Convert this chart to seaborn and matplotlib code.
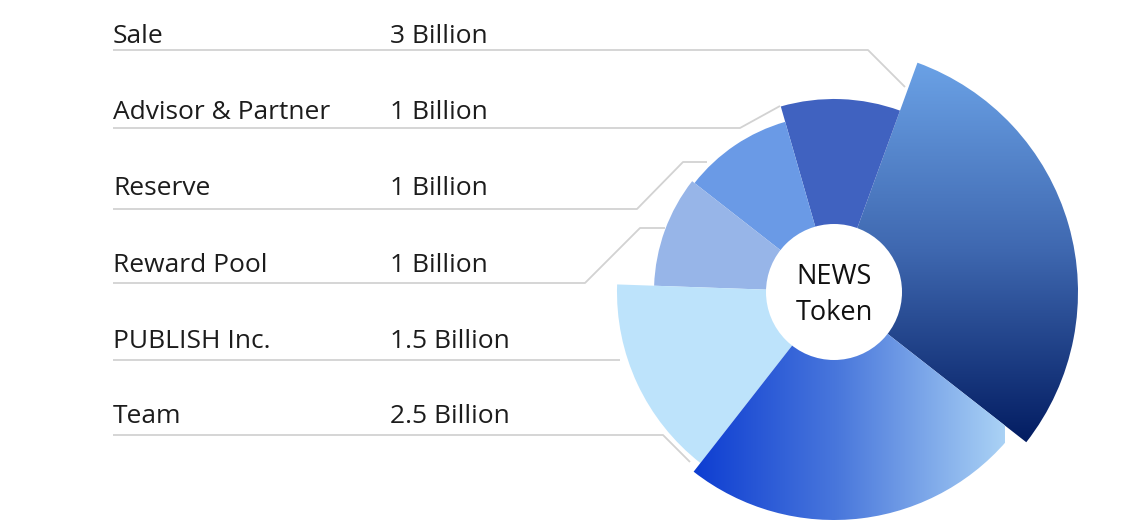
import numpy as np
import matplotlib
matplotlib.use("Agg")
import matplotlib.pyplot as plt
from matplotlib.patches import Wedge, Circle
import seaborn as sns

# ---- data ----
categories = ["Sale", "Advisor & Partner", "Reserve", "Reward Pool", "PUBLISH Inc.", "Team"]
amounts = [3, 1, 1, 1, 1.5, 2.5]          # billions of tokens
center_label = "NEWS\nToken"

# ---- style / layout ----
outer_radius = [244, 193, 177, 180, 217, 228]
flat_colors = [None, "#4062c0", "#6a9ae6", "#97b5e8", "#bde3fb", None]
sale_grad = ["#6ea6ea", "#3f68b0", "#00195e"]       # top -> bottom
team_grad = ["#0535d0", "#4a78dc", "#aad2f5"]       # left -> right
text_base = [43, 119, 195, 272, 348, 423]
leaders = [
    [(113, 50), (868, 50), (905, 87)],
    [(113, 128), (740, 128), (780, 106)],
    [(113, 209), (637, 209), (683, 162), (707, 162)],
    [(113, 283), (585, 283), (640, 228), (665, 228)],
    [(113, 360), (620, 360)],
    [(113, 435), (663, 435), (690, 462)],
]
cx, cy = 834, 292
hole_r = 68
start_angle = -38   # visual degrees, counter-clockwise from +x

sns.set_theme(style="white")
plt.rcParams["font.family"] = ["Open Sans", "DejaVu Sans"]

W, H = 1123, 520
fig = plt.figure(figsize=(W / 100, H / 100), dpi=100)
ax = fig.add_axes([0, 0, 1, 1])
ax.set_xlim(0, W)
ax.set_ylim(H, 0)
ax.axis("off")

# leader lines and table
for pts, lab, amt, ty in zip(leaders, categories, amounts, text_base):
    xs, ys = zip(*pts)
    ax.plot(xs, ys, color="#d2d2d2", lw=1.3, zorder=1, solid_capstyle="butt")
    ax.text(113, ty, lab, fontsize=19, color="#1c1c1c", va="baseline", ha="left")
    ax.text(390, ty, f"{amt:g} Billion", fontsize=19, color="#1c1c1c", va="baseline", ha="left")

# wedges
total = float(sum(amounts))
angles = start_angle + 360 * np.concatenate([[0], np.cumsum(amounts)]) / total


def gradient_image(colors, n=256, vertical=True):
    pal = sns.blend_palette(colors, n_colors=n, as_cmap=False)
    arr = np.array(pal)
    if vertical:
        img = arr[:, None, :].repeat(2, axis=1)
    else:
        img = arr[None, :, :].repeat(2, axis=0)
    return img


for i, (a1, a2, r) in enumerate(zip(angles[:-1], angles[1:], outer_radius)):
    # y axis is inverted -> mirror the angles
    w = Wedge((cx, cy), r, -a2, -a1, lw=0, zorder=2)
    if flat_colors[i] is not None:
        w.set_facecolor(flat_colors[i])
        ax.add_patch(w)
    else:
        w.set_facecolor("none")
        ax.add_patch(w)
        if i == 0:
            img = gradient_image(sale_grad, vertical=True)
            ext = (cx - r * 0.4, cx + r, cy + r * 0.65, cy - r)
        else:
            img = gradient_image(team_grad, vertical=False)
            ext = (cx - r * 0.7, cx + r * 0.75, cy + r, cy - r)
        im = ax.imshow(img, extent=ext, origin="upper",
                       aspect="auto", zorder=2, interpolation="bilinear")
        im.set_clip_path(w)

ax.set_xlim(0, W)
ax.set_ylim(H, 0)

ax.add_patch(Circle((cx, cy), hole_r, facecolor="white", lw=0, zorder=3))
ax.text(cx, cy + 3, center_label, ha="center", va="center", fontsize=19.5,
        color="#111111", zorder=4, linespacing=1.4)

fig.savefig("out.png", dpi=100, facecolor="white")
